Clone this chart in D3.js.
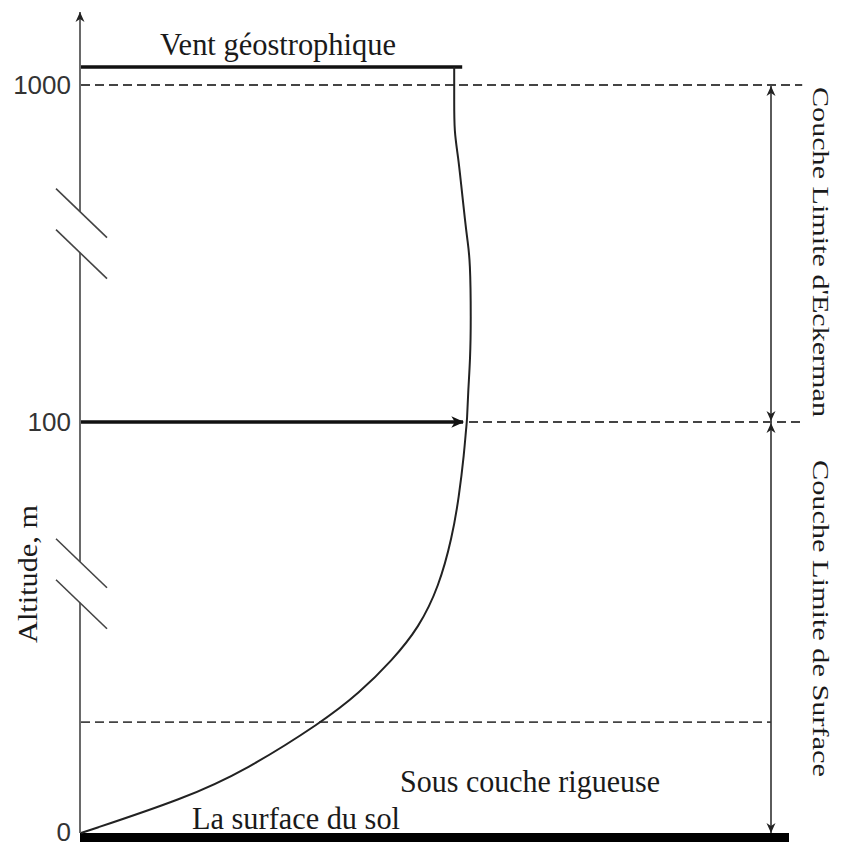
<!DOCTYPE html>
<html>
<head>
<meta charset="utf-8">
<script src="https://cdn.jsdelivr.net/npm/d3@7/dist/d3.min.js"></script>
<style>
  body { margin: 0; background: #fff; }
  svg { display: block; }
</style>
</head>
<body>
<div id="chart"></div>
<script>
// profil de vent (vitesse arbitraire, altitude en m)
var altitudes = [0, 8.5, 15.3, 27, 34, 42, 50, 60, 72, 81.8, 92.5, 98.8, 100, 185, 266, 372, 533, 586, 639, 738, 808, 875, 960, 1048];
var speeds    = [0, 2.62, 4.12, 6.03, 6.95, 7.78, 8.45, 8.95, 9.28, 9.45, 9.58, 9.63, 9.65, 9.68, 9.73, 9.75, 9.73, 9.66, 9.6, 9.5, 9.43, 9.33, 9.33, 9.33];
var tickValues = [0, 100, 1000];
var tickLabels = ["0", "100", "1000"];
var roughTop = 27, surfaceTop = 100, ekmanTop = 1000;
var geoSpeed = 9.53, geoAlt = 1048;
var refSpeed = 9.6;
var breakAlts = [61, 607];
var axisTopAlt = 1195;

var W = 843, H = 848;
var svg = d3.select("#chart").append("svg").attr("width", W).attr("height", H);

var x = d3.scaleLinear().domain([0, 10]).range([81, 481]);
var y = d3.scaleLinear().domain([0, 100, 1000]).range([833, 422, 85]);

var axisX = 80;
var dimX = x(17.25), dashEnd = x(18.03), barEnd = x(17.7);

var defs = svg.append("defs");
function marker(id, d, w, h, color) {
  defs.append("marker").attr("id", id)
    .attr("viewBox", "-10 -6 12 12").attr("refX", 0).attr("refY", 0)
    .attr("markerUnits", "userSpaceOnUse")
    .attr("markerWidth", w).attr("markerHeight", h)
    .attr("orient", "auto-start-reverse")
    .append("path").attr("d", d).attr("fill", color);
}
marker("arr", "M0,0L-10,-4.5L-7,0L-10,4.5Z", 12, 12, "#222");
marker("arrBig", "M1,0L-10,-5L-7,0L-10,5Z", 14, 14, "#111");

// lignes pointillées des couches
var dash = svg.append("g").attr("stroke", "#444").attr("stroke-width", 1.8).attr("stroke-dasharray", "9,5").attr("fill", "none");
dash.append("line").attr("x1", x(0)).attr("x2", dashEnd).attr("y1", y(ekmanTop)).attr("y2", y(ekmanTop));
dash.append("line").attr("x1", x(9.65) + 2).attr("x2", dashEnd).attr("y1", y(surfaceTop)).attr("y2", y(surfaceTop));
dash.append("line").attr("x1", x(0)).attr("x2", dimX).attr("y1", y(roughTop)).attr("y2", y(roughTop));

// axe vertical avec coupures
var gap = 20.5;
var bLow = y(breakAlts[0]), bHigh = y(breakAlts[1]);
var ax = svg.append("g").attr("stroke", "#444").attr("stroke-width", 1.6).attr("fill", "none");
ax.append("line").attr("x1", axisX).attr("x2", axisX).attr("y1", y(0)).attr("y2", bLow + gap);
ax.append("line").attr("x1", axisX).attr("x2", axisX).attr("y1", bLow - gap).attr("y2", bHigh + gap);
ax.append("line").attr("x1", axisX).attr("x2", axisX).attr("y1", bHigh - gap).attr("y2", y(axisTopAlt))
  .attr("marker-end", "url(#arr)");
breakAlts.forEach(function (b) {
  [-gap, gap].forEach(function (o) {
    var c = y(b) + o;
    ax.append("line").attr("x1", axisX - 24).attr("y1", c - 23)
      .attr("x2", axisX + 27).attr("y2", c + 26);
  });
});

var yAxis = d3.axisLeft(y).tickValues(tickValues)
  .tickFormat(function (d, i) { return tickLabels[i]; })
  .tickSize(0).tickPadding(9);
var gy = svg.append("g").attr("transform", "translate(" + axisX + ",0)").call(yAxis);
gy.select(".domain").remove();
gy.selectAll("text")
  .attr("font-family", "Liberation Sans, Arial, sans-serif")
  .attr("font-size", 26).attr("fill", "#333")
  .attr("dy", function (d) { return d === 0 ? "0.3em" : "0.34em"; });

// sol
svg.append("line").attr("x1", axisX).attr("x2", barEnd).attr("y1", y(0) + 4.5).attr("y2", y(0) + 4.5)
  .attr("stroke", "#000").attr("stroke-width", 9);

// vent géostrophique
svg.append("line").attr("x1", x(0)).attr("x2", x(geoSpeed)).attr("y1", y(geoAlt)).attr("y2", y(geoAlt))
  .attr("stroke", "#111").attr("stroke-width", 3.5);

// vecteur vent à 100 m
svg.append("line").attr("x1", x(0)).attr("x2", x(refSpeed) - 2).attr("y1", y(surfaceTop)).attr("y2", y(surfaceTop))
  .attr("stroke", "#111").attr("stroke-width", 3.5).attr("marker-end", "url(#arrBig)");

// profil
var pts = altitudes.map(function (a, i) { return [speeds[i], a]; });
var line = d3.line().x(function (d) { return x(d[0]); }).y(function (d) { return y(d[1]); })
  .curve(d3.curveBasis);
svg.append("path").datum(pts).attr("d", line)
  .attr("fill", "none").attr("stroke", "#222").attr("stroke-width", 2);

// cotes à droite
var dim = svg.append("g").attr("stroke", "#333").attr("stroke-width", 1.6);
dim.append("line").attr("x1", dimX).attr("x2", dimX).attr("y1", y(ekmanTop) + 1).attr("y2", y(surfaceTop) - 1)
  .attr("marker-start", "url(#arr)").attr("marker-end", "url(#arr)");
dim.append("line").attr("x1", dimX).attr("x2", dimX).attr("y1", y(surfaceTop) + 1).attr("y2", y(0))
  .attr("marker-start", "url(#arr)").attr("marker-end", "url(#arr)");

// textes
var serif = "Liberation Serif, Times New Roman, serif";
function label(txt, tx, ty, rot, size, len) {
  svg.append("text").attr("transform", "translate(" + tx + "," + ty + ") rotate(" + rot + ")")
    .attr("font-family", serif).attr("font-size", size).attr("fill", "#1a1a1a")
    .attr("textLength", len).attr("lengthAdjust", "spacingAndGlyphs")
    .text(txt);
}
label("Vent géostrophique", 160, 55, 0, 32, 236);
label("Sous couche rigueuse", 400, 792, 0, 32, 260);
label("La surface du sol", 192, 829, 0, 31, 208);
label("Couche Limite d'Eckerman", 813, 87, 90, 24, 330);
label("Couche Limite de Surface", 813, 460, 90, 24, 317);
label("Altitude, m", 37, 643, -90, 27, 138);
</script>
</body>
</html>
